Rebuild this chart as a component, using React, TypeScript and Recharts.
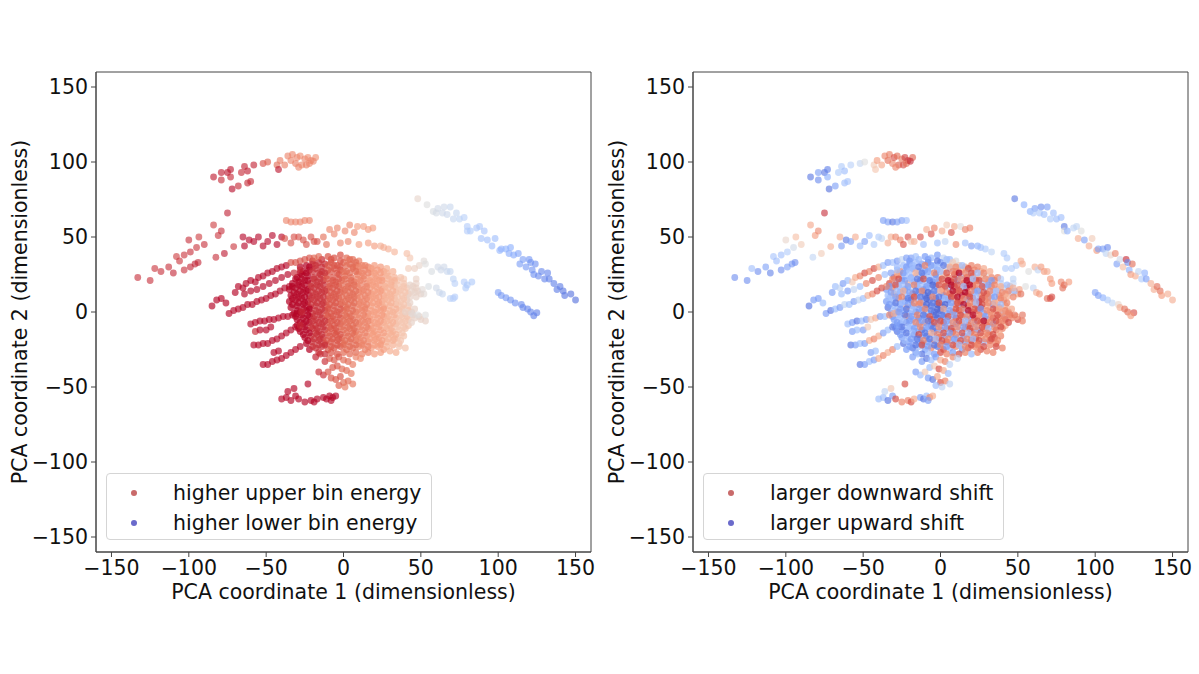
import React from 'react';
import { ScatterChart, Scatter, XAxis, YAxis, ReferenceArea, Label } from 'recharts';

// Each point: [PCA1, PCA2, colour value left panel (0-10), colour value right panel (0-10)]
type P = [number, number, number, number];

const xTicks = [-150, -100, -50, 0, 50, 100, 150];
const yTicks = [-150, -100, -50, 0, 50, 100, 150];
const xTitle = 'PCA coordinate 1 (dimensionless)';
const yTitle = 'PCA coordinate 2 (dimensionless)';
const legendLeft = ['higher upper bin energy', 'higher lower bin energy'];
const legendRight = ['larger downward shift', 'larger upward shift'];

const coreUpperPts: P[] = [
  [-10, 37, 8.9, 2], [-6, 36, 8.9, 3], [-2, 38, 8.9, 2], [2, 36, 8.5, 4], [6, 35, 8.5, 3], [10, 34, 8, 5],
  [-24, 31, 10, 3], [-20, 32, 9.4, 2], [-16, 33, 9.4, 3], [-12, 32, 9.4, 2], [-8, 33, 8.9, 1], [-4, 31, 8.9, 3], [0, 33, 8.5, 2], [4, 32, 8.5, 4], [8, 31, 8.5, 5], [12, 31, 8, 6], [16, 30, 8, 7], [20, 31, 7.4, 8],
  [-26, 27, 10, 8], [-22, 28, 10, 3], [-18, 29, 9.4, 2], [-14, 27, 9.4, 3], [-10, 28, 8.9, 2], [-6, 29, 8.9, 4], [-2, 28, 8.9, 2], [2, 27, 8.5, 6], [6, 29, 8.5, 3], [10, 27, 8, 8], [14, 28, 8, 7], [18, 27, 7.4, 4], [22, 28, 7.4, 8], [26, 27, 7.4, 7],
  [-30, 23, 10, 9], [-27, 25, 10, 8], [-23, 24, 10, 3], [-19, 23, 9.4, 2], [-15, 25, 9.4, 4], [-11, 24, 8.9, 2], [-7, 23, 8.9, 3], [-3, 25, 8.9, 1], [1, 24, 8.5, 6], [5, 23, 8.5, 8], [9, 25, 8, 9], [13, 24, 8, 3], [17, 23, 7.4, 9], [21, 24, 7.4, 8], [25, 23, 7.4, 7], [29, 24, 6.8, 5], [33, 23, 6.8, 8],
  [-33, 19, 10, 9], [-29, 20, 10, 3], [-25, 21, 10, 2], [-21, 19, 9.4, 7], [-17, 20, 9.4, 2], [-13, 21, 9.4, 1], [-9, 19, 8.9, 3], [-5, 20, 8.9, 2], [-1, 21, 8.5, 7], [3, 19, 8.5, 8], [7, 20, 8.5, 9], [11, 21, 8, 2], [15, 19, 8, 9], [19, 20, 7.4, 8], [23, 21, 7.4, 9], [27, 19, 6.8, 3], [31, 20, 6.8, 7], [35, 21, 6.2, 8], [39, 19, 6.2, 4],
  [-35, 15, 10, 2], [-31, 16, 10, 8], [-27, 17, 10, 3], [-23, 15, 10, 2], [-19, 16, 9.4, 4], [-15, 17, 9.4, 2], [-11, 15, 8.9, 1], [-7, 16, 8.9, 3], [-3, 17, 8.9, 2], [1, 15, 8.5, 8], [5, 16, 8.5, 3], [9, 17, 8, 9], [13, 15, 8, 8], [17, 16, 7.4, 10], [21, 17, 7.4, 9], [25, 15, 7.4, 7], [29, 16, 6.8, 3], [33, 17, 6.8, 8], [37, 15, 6.2, 7], [41, 16, 6.2, 4], [45, 17, 5.5, 7],
];

const coreMiddlePts: P[] = [
  [-34, 11, 10, 3], [-30, 12, 10, 7], [-26, 13, 10, 2], [-22, 11, 10, 3], [-18, 12, 9.4, 8], [-14, 13, 9.4, 2], [-10, 11, 8.9, 1], [-6, 12, 8.9, 2], [-2, 13, 8.9, 3], [2, 11, 8.5, 1], [6, 12, 8.5, 9], [10, 13, 8, 8], [14, 11, 8, 10], [18, 12, 7.4, 9], [22, 13, 7.4, 2], [26, 11, 7.4, 8], [30, 12, 6.8, 9], [34, 13, 6.8, 3], [38, 11, 6.2, 8], [42, 12, 6.2, 7], [46, 13, 5.5, 4], [50, 12, 5.5, 7],
  [-35, 7, 10, 2], [-31, 8, 10, 3], [-27, 9, 10, 8], [-23, 7, 10, 2], [-19, 8, 9.4, 1], [-15, 9, 9.4, 3], [-11, 7, 8.9, 2], [-7, 8, 8.9, 1], [-3, 9, 8.9, 0.5], [1, 7, 8.5, 2], [5, 8, 8.5, 1], [9, 9, 8, 8], [13, 7, 8, 9], [17, 8, 7.4, 2], [21, 9, 7.4, 9], [25, 7, 7.4, 10], [29, 8, 6.8, 8], [33, 9, 6.8, 3], [37, 7, 6.2, 7], [41, 8, 6.2, 8],
  [-34, 3, 10, 1], [-30, 4, 10, 3], [-26, 5, 10, 2], [-22, 3, 10, 7], [-18, 4, 9.4, 2], [-14, 5, 9.4, 8], [-10, 3, 8.9, 2], [-6, 4, 8.9, 1], [-2, 5, 8.9, 0.5], [2, 3, 8.5, 1], [6, 4, 8.5, 3], [10, 5, 8, 8], [14, 3, 8, 2], [18, 4, 7.4, 9], [22, 5, 7.4, 8], [26, 3, 7.4, 10], [30, 4, 6.8, 7], [34, 5, 6.8, 2], [38, 3, 6.2, 8], [42, 4, 6.2, 7],
  [-32, -1, 10, 2], [-28, 0, 10, 8], [-24, 1, 10, 3], [-20, -1, 9.4, 2], [-16, 0, 9.4, 1], [-12, 1, 9.4, 2], [-8, -1, 8.9, 3], [-4, 0, 8.9, 1], [0, 1, 8.5, 0.5], [4, -1, 8.5, 2], [8, 0, 8.5, 8], [12, 1, 8, 9], [16, -1, 8, 3], [20, 0, 7.4, 8], [24, 1, 7.4, 9], [28, -1, 6.8, 2], [32, 0, 6.8, 7], [36, 1, 6.2, 8], [40, -1, 6.2, 3], [44, 0, 5.5, 8],
  [-30, -5, 10, 2], [-26, -4, 10, 3], [-22, -3, 10, 8], [-18, -5, 9.4, 2], [-14, -4, 9.4, 1], [-10, -3, 8.9, 2], [-6, -5, 8.9, 9], [-2, -4, 8.9, 1], [2, -3, 8.5, 2], [6, -5, 8.5, 3], [10, -4, 8, 9], [14, -3, 8, 8], [18, -5, 7.4, 2], [22, -4, 7.4, 9], [26, -3, 7.4, 7], [30, -5, 6.8, 8], [34, -4, 6.8, 9], [38, -3, 6.2, 8], [42, -5, 6.2, 9], [46, -4, 5.5, 8], [50, -5, 5.5, 9], [53, -6, 5.5, 8],
];

const coreLowerPts: P[] = [
  [-30, -9, 10, 3], [-26, -8, 10, 2], [-22, -7, 10, 1], [-18, -9, 9.4, 3], [-14, -8, 9.4, 2], [-10, -7, 8.9, 8], [-6, -9, 8.9, 1], [-2, -8, 8.9, 2], [2, -7, 8.5, 9], [6, -9, 8.5, 3], [10, -8, 8, 2], [14, -7, 8, 8], [18, -9, 7.4, 9], [22, -8, 7.4, 3], [26, -7, 7.4, 8], [30, -9, 6.8, 9], [34, -8, 6.8, 2], [38, -7, 6.2, 8], [42, -9, 6.2, 7],
  [-28, -13, 10, 1], [-24, -12, 10, 2], [-20, -11, 9.4, 3], [-16, -13, 9.4, 2], [-12, -12, 9.4, 1], [-8, -11, 8.9, 3], [-4, -13, 8.9, 1], [0, -12, 8.5, 2], [4, -11, 8.5, 8], [8, -13, 8.5, 9], [12, -12, 8, 3], [16, -11, 8, 8], [20, -13, 7.4, 9], [24, -12, 7.4, 2], [28, -11, 6.8, 8], [32, -13, 6.8, 7], [36, -12, 6.2, 9], [40, -11, 6.2, 8],
  [-25, -17, 10, 2], [-21, -16, 9.4, 3], [-17, -15, 9.4, 1], [-13, -17, 9.4, 2], [-9, -16, 8.9, 1], [-5, -15, 8.9, 3], [-1, -17, 8.5, 9], [3, -16, 8.5, 2], [7, -15, 8.5, 8], [11, -17, 8, 3], [15, -16, 8, 2], [19, -15, 7.4, 8], [23, -17, 7.4, 9], [27, -16, 6.8, 7], [31, -15, 6.8, 8], [35, -17, 6.2, 9], [39, -16, 6.2, 8],
  [-24, -21, 10, 1], [-20, -20, 9.4, 2], [-16, -19, 9.4, 3], [-12, -21, 9.4, 1], [-8, -20, 8.9, 2], [-4, -19, 8.9, 8], [0, -21, 8.5, 2], [4, -20, 8.5, 9], [8, -19, 8.5, 3], [12, -21, 8, 8], [16, -20, 8, 2], [20, -19, 7.4, 9], [24, -21, 7.4, 8], [28, -20, 6.8, 3], [32, -19, 6.8, 9], [36, -21, 6.2, 8], [40, -24, 6.2, 8],
  [-22, -25, 10, 2], [-18, -24, 9.4, 1], [-14, -23, 9.4, 3], [-10, -25, 8.9, 2], [-6, -24, 8.9, 8], [-2, -23, 8.9, 1], [2, -25, 8.5, 9], [6, -24, 8.5, 3], [10, -23, 8, 8], [14, -25, 8, 2], [18, -24, 7.4, 9], [22, -23, 7.4, 8], [26, -25, 7.4, 9], [30, -26, 6.8, 8], [34, -27, 6.8, 8],
];

const coreFillUpperPts: P[] = [
  [-20, 34, 9.4, 2], [-14, 35, 9.4, 3], [-8, 35, 8.9, 2], [-2, 34, 8.9, 1], [4, 35, 8.5, 3], [8, 33, 8.5, 6],
  [-28, 30, 10, 3], [-22, 30, 10, 2], [-18, 31, 9.4, 3], [-14, 30, 9.4, 1], [-10, 31, 8.9, 8], [-6, 31, 8.9, 2], [-2, 30, 8.9, 3], [2, 31, 8.5, 1], [6, 30, 8.5, 7], [10, 30, 8, 8], [14, 31, 8, 3], [18, 29, 7.4, 9], [24, 30, 7.4, 8], [28, 29, 6.8, 7],
  [-28, 26, 10, 7], [-24, 26, 10, 2], [-20, 27, 9.4, 3], [-16, 26, 9.4, 7], [-12, 26, 9.4, 1], [-8, 27, 8.9, 2], [-4, 26, 8.9, 8], [0, 27, 8.5, 3], [4, 26, 8.5, 9], [8, 27, 8.5, 8], [12, 26, 8, 10], [16, 26, 8, 8], [20, 26, 7.4, 9], [24, 26, 7.4, 3], [28, 26, 6.8, 8], [32, 27, 6.8, 7],
  [-31, 22, 10, 8], [-27, 22, 10, 9], [-23, 21, 10, 2], [-19, 22, 9.4, 3], [-15, 22, 9.4, 1], [-11, 22, 8.9, 9], [-7, 21, 8.9, 1], [-3, 22, 8.9, 2], [1, 22, 8.5, 9], [5, 21, 8.5, 10], [9, 22, 8, 9], [13, 22, 8, 8], [17, 21, 7.4, 10], [21, 22, 7.4, 3], [25, 21, 7.4, 9], [29, 22, 6.8, 8], [33, 21, 6.8, 2], [37, 23, 6.2, 8],
  [-33, 17, 10, 2], [-29, 18, 10, 9], [-25, 18, 10, 3], [-21, 17, 9.4, 2], [-17, 18, 9.4, 8], [-13, 18, 9.4, 3], [-9, 17, 8.9, 2], [-5, 18, 8.9, 0.5], [-1, 18, 8.5, 9], [3, 17, 8.5, 9], [7, 18, 8.5, 10], [11, 18, 8, 9], [15, 17, 8, 3], [19, 18, 7.4, 10], [23, 18, 7.4, 8], [27, 17, 6.8, 9], [31, 18, 6.8, 2], [35, 18, 6.2, 8], [39, 17, 6.2, 7], [43, 18, 5.5, 3],
  [-32, 13, 10, 2], [-28, 14, 10, 3], [-24, 14, 10, 7], [-20, 13, 9.4, 2], [-16, 14, 9.4, 1], [-12, 14, 9.4, 8], [-8, 13, 8.9, 0.5], [-4, 14, 8.9, 1], [0, 14, 8.5, 7], [4, 13, 8.5, 8], [8, 14, 8.5, 10], [12, 14, 8, 9], [16, 13, 8, 10], [20, 14, 7.4, 8], [24, 14, 7.4, 2], [28, 13, 6.8, 9], [32, 14, 6.8, 8], [36, 14, 6.2, 3], [40, 13, 6.2, 8], [44, 14, 5.5, 8], [48, 14, 5.5, 3],
  [-33, 9, 10, 3], [-29, 10, 10, 2], [-25, 10, 10, 8], [-21, 9, 9.4, 1], [-17, 10, 9.4, 9], [-13, 10, 9.4, 1], [-9, 9, 8.9, 0.5], [-5, 10, 8.9, 8], [-1, 10, 8.5, 1], [3, 9, 8.5, 3], [7, 10, 8.5, 9], [11, 10, 8, 10], [15, 9, 8, 8], [19, 10, 7.4, 9], [23, 10, 7.4, 3], [27, 9, 6.8, 9], [31, 10, 6.8, 8], [35, 10, 6.2, 2], [39, 9, 6.2, 8], [43, 10, 5.5, 7], [47, 10, 5.5, 8],
];

const coreFillLowerPts: P[] = [
  [-33, 5, 10, 2], [-29, 6, 10, 1], [-25, 6, 10, 3], [-21, 5, 9.4, 2], [-17, 6, 9.4, 8], [-13, 6, 9.4, 8], [-9, 5, 8.9, 0.5], [-5, 6, 8.9, 1], [-1, 6, 8.5, 9], [3, 5, 8.5, 0.5], [7, 6, 8.5, 2], [11, 6, 8, 9], [15, 5, 8, 10], [19, 6, 7.4, 8], [23, 6, 7.4, 3], [27, 5, 6.8, 9], [31, 6, 6.8, 8], [35, 6, 6.2, 7], [39, 5, 6.2, 3], [43, 6, 5.5, 8],
  [-30, 1, 10, 3], [-26, 2, 10, 2], [-22, 2, 10, 1], [-18, 1, 9.4, 3], [-14, 2, 9.4, 2], [-10, 2, 8.9, 8], [-6, 1, 8.9, 1], [-2, 2, 8.9, 0.5], [2, 2, 8.5, 7], [6, 1, 8.5, 2], [10, 2, 8, 9], [14, 2, 8, 8], [18, 1, 7.4, 10], [22, 2, 7.4, 9], [26, 2, 7.4, 2], [30, 1, 6.8, 8], [34, 2, 6.8, 9], [38, 2, 6.2, 7], [42, 1, 6.2, 8], [46, 2, 5.5, 7],
  [-31, -3, 10, 2], [-27, -2, 10, 3], [-23, -2, 10, 1], [-19, -3, 9.4, 2], [-15, -2, 9.4, 8], [-11, -2, 8.9, 1], [-7, -3, 8.9, 9], [-3, -2, 8.9, 0.5], [1, -2, 8.5, 1], [5, -3, 8.5, 9], [9, -2, 8, 2], [13, -2, 8, 9], [17, -3, 7.4, 8], [21, -2, 7.4, 10], [25, -2, 7.4, 8], [29, -3, 6.8, 2], [33, -2, 6.8, 8], [37, -2, 6.2, 9], [41, -3, 6.2, 8], [45, -2, 5.5, 8], [49, -3, 5.5, 7],
  [-28, -7, 10, 2], [-24, -6, 10, 3], [-20, -6, 9.4, 2], [-16, -7, 9.4, 8], [-12, -6, 9.4, 2], [-8, -6, 8.9, 1], [-4, -7, 8.9, 9], [0, -6, 8.5, 9], [4, -6, 8.5, 2], [8, -7, 8.5, 8], [12, -6, 8, 9], [16, -6, 8, 3], [20, -7, 7.4, 8], [24, -6, 7.4, 9], [28, -6, 6.8, 10], [32, -7, 6.8, 8], [36, -6, 6.2, 9], [40, -6, 6.2, 8], [44, -7, 5.5, 9],
  [-29, -11, 10, 2], [-25, -10, 10, 1], [-21, -10, 9.4, 3], [-17, -11, 9.4, 2], [-13, -10, 9.4, 8], [-9, -10, 8.9, 2], [-5, -11, 8.9, 1], [-1, -10, 8.5, 8], [3, -10, 8.5, 2], [7, -11, 8.5, 9], [11, -10, 8, 8], [15, -10, 8, 2], [19, -11, 7.4, 9], [23, -10, 7.4, 8], [27, -10, 6.8, 9], [31, -11, 6.8, 3], [35, -10, 6.2, 8], [39, -10, 6.2, 9],
  [-26, -15, 10, 2], [-22, -14, 10, 1], [-18, -14, 9.4, 3], [-14, -15, 9.4, 9], [-10, -14, 8.9, 1], [-6, -14, 8.9, 7], [-2, -15, 8.9, 8], [2, -14, 8.5, 9], [6, -14, 8.5, 2], [10, -15, 8, 8], [14, -14, 8, 9], [18, -14, 7.4, 3], [22, -15, 7.4, 8], [26, -14, 7.4, 9], [30, -14, 6.8, 8], [34, -15, 6.8, 9], [38, -14, 6.2, 7],
  [-23, -19, 10, 3], [-19, -18, 9.4, 2], [-15, -18, 9.4, 1], [-11, -19, 8.9, 8], [-7, -18, 8.9, 1], [-3, -18, 8.9, 3], [1, -19, 8.5, 9], [5, -18, 8.5, 8], [9, -18, 8, 2], [13, -19, 8, 9], [17, -18, 7.4, 8], [21, -18, 7.4, 3], [25, -19, 7.4, 9], [29, -18, 6.8, 8], [33, -18, 6.8, 9], [37, -19, 6.2, 8],
  [-20, -23, 9.4, 2], [-16, -22, 9.4, 1], [-12, -22, 9.4, 9], [-8, -23, 8.9, 2], [-4, -22, 8.9, 1], [0, -22, 8.5, 8], [4, -23, 8.5, 2], [8, -22, 8.5, 9], [12, -22, 8, 3], [16, -23, 8, 8], [20, -22, 7.4, 9], [24, -22, 7.4, 8], [28, -23, 6.8, 9], [32, -22, 6.8, 8], [36, -23, 6.2, 9],
  [-16, -27, 9.4, 2], [-12, -28, 9.4, 1], [-8, -27, 8.9, 3], [-4, -28, 8.9, 2], [0, -27, 8.5, 9], [4, -28, 8.5, 8], [8, -27, 8.5, 2], [12, -28, 8, 9], [16, -27, 8, 8], [20, -28, 7.4, 3], [24, -27, 7.4, 8],
];

const stemPts: P[] = [
  [-16, -40, 9.4, 2], [-13, -42, 9.4, 3], [-10, -40, 8.9, 6], [-8, -44, 8.9, 2], [-5, -45, 8.9, 1], [-2, -43, 8.9, 7], [0, -47, 8.5, 9], [3, -46, 8.5, 8], [6, -48, 8.2, 4], [-3, -49, 8.7, 3], [1, -50, 8.2, 4],
  [-7, -37, 8.9, 3], [-4, -36, 8.9, 6], [-1, -38, 8.5, 9], [2, -39, 8.5, 7], [5, -41, 8.2, 3], [-12, -33, 9.4, 2], [-9, -31, 8.9, 1], [-6, -32, 8.9, 3], [-3, -30, 8.9, 2], [0, -32, 8.5, 7], [3, -33, 8.5, 8], [6, -35, 8.2, 4],
  [-18, -30, 9.6, 2], [-15, -28, 9.4, 3], [8, -30, 8, 8], [11, -31, 7.8, 4],
];

const bottomPts: P[] = [
  [-40, -58, 10, 3], [-37, -57, 10, 3], [-36, -53, 10, 4], [-34, -59, 10, 1], [-32, -51, 10, 6], [-31, -56, 10, 2], [-29, -58, 10, 9], [-23, -48, 10, 9],
  [-21, -59, 10, 8], [-19, -60, 10, 9], [-17, -58, 10, 7], [-13, -57, 10, 2], [-11, -58, 10, 1], [-9, -56, 10, 3], [-7, -57, 10, 8], [-5, -56, 10, 7], [-8, -59, 10, 2], [-25, -60, 10, 8],
];

const leftStreakPts: P[] = [
  [-70, 13, 10, 2], [-68, 17, 10, 3], [-65, 16, 10, 4], [-63, 19, 10, 2], [-60, 21, 10, 3], [-57, 20, 10, 6], [-55, 23, 10, 7], [-52, 24, 10, 8], [-49, 26, 10, 9], [-46, 27, 10, 8], [-43, 29, 10, 9], [-40, 30, 10, 7], [-37, 31, 10, 3], [-34, 33, 9, 2], [-31, 33, 9, 3], [-28, 34, 9, 2], [-25, 35, 9, 4], [-22, 36, 9, 2], [-19, 36, 8.7, 2], [-16, 37, 8.7, 3],
  [-64, 12, 10, 3], [-60, 14, 10, 2], [-56, 15, 10, 4], [-52, 17, 10, 3], [-48, 19, 10, 8], [-44, 21, 10, 9], [-40, 23, 10, 8], [-36, 25, 10, 3], [-32, 26, 9.5, 2], [-28, 28, 9.5, 3],
  [-74, -1, 10, 2], [-71, 1, 10, 1], [-68, 2, 10, 3], [-65, 3, 10, 2], [-62, 5, 10, 4], [-59, 5, 10, 3], [-56, 7, 10, 2], [-53, 8, 10, 4], [-50, 9, 10, 3], [-47, 11, 10, 7], [-44, 12, 10, 8], [-41, 14, 10, 9], [-38, 16, 10, 9], [-35, 17, 10, 8],
  [-60, -8, 10, 3], [-57, -7, 10, 2], [-54, -6, 10, 1], [-51, -6, 10, 3], [-48, -5, 10, 2], [-45, -5, 10, 6], [-42, -4, 10, 7], [-39, -3, 10, 2], [-36, -3, 10, 3], [-33, -2, 10, 8], [-30, -1, 10, 7], [-27, 0, 9.5, 2],
  [-57, -13, 9.5, 2], [-54, -12, 10, 3], [-50, -12, 10, 2], [-47, -10, 10, 6],
  [-58, -22, 10, 1], [-55, -22, 10, 2], [-52, -21, 10, 3], [-49, -21, 10, 2], [-46, -19, 10, 7], [-43, -18, 10, 8], [-40, -16, 10, 7], [-37, -14, 10, 2], [-34, -12, 10, 3], [-31, -10, 10, 1], [-28, -9, 9.5, 2],
  [-45, -27, 10, 2], [-42, -26, 10, 3],
  [-52, -35, 10, 1], [-49, -35, 10, 2], [-46, -33, 10, 3], [-43, -32, 10, 2], [-40, -31, 10, 7], [-37, -29, 10, 8], [-34, -27, 10, 7], [-31, -25, 10, 8], [-28, -23, 10, 3],
  [-85, 4, 10, 1], [-82, 8, 10, 2], [-79, 9, 10, 2], [-76, 6, 10, 3],
];

const band60Pts: P[] = [
  [-37, 61, 8, 2], [-34, 60, 8, 2], [-31, 60, 8, 1], [-28, 60, 8, 2], [-25, 61, 8, 2], [-22, 61, 8, 3],
];

const bandPts: P[] = [
  [-65, 50, 10, 7], [-64, 44, 10, 2], [-61, 48, 10, 1], [-58, 47, 10, 2], [-55, 50, 10, 7], [-52, 44, 10, 3], [-49, 47, 10, 2], [-46, 51, 10, 3], [-43, 45, 10, 3.5], [-40, 50, 10, 3.5],
  [-38, 49, 9, 4], [-34, 46, 9, 7], [-32, 50, 9, 7], [-29, 50, 9, 8], [-26, 48, 9, 8], [-24, 45, 9, 9], [-21, 50, 9, 9], [-19, 47, 9, 6], [-17, 47, 9, 7], [-13, 50, 8.5, 9],
  [-9, 55, 8, 7], [-4, 56, 8, 8], [-6, 52, 8, 9], [1, 54, 8, 7], [4, 58, 8, 6], [7, 53, 8, 9], [9, 57, 7.5, 7], [13, 57, 7.5, 5], [16, 55, 7.5, 8], [19, 56, 7.5, 8],
  [16, 46, 7.5, 3], [20, 44, 7.5, 2], [24, 44, 7, 2.5], [26, 43, 7, 3], [29, 42, 7, 3.5], [33, 40, 6.8, 4], [-2, 46, 8, 3], [3, 47, 8, 4], [10, 45, 7.5, 8], [-11, 45, 8.5, 3],
];

const topArcPts: P[] = [
  [-84, 90, 9.7, 1], [-79, 93, 9.7, 2], [-79, 88, 9.5, 1.5], [-75, 93, 9.8, 1], [-73, 95, 9.8, 1.2], [-73, 90, 9.5, 2.5], [-72, 82, 9.9, 0.8], [-68, 84, 9.5, 2],
  [-66, 93, 9.5, 3.5], [-64, 97, 9.6, 3.5], [-62, 94, 9.7, 3], [-62, 86, 9.5, 3], [-60, 87, 9.5, 3.2], [-58, 98, 9.6, 3.8], [-52, 99, 9, 4.2], [-49, 100, 8.8, 5],
  [-43, 98, 8.5, 6], [-42, 95, 9.8, 6.2], [-41, 101, 8.2, 7.5], [-36, 104, 8, 8], [-34, 101, 8, 8.5], [-33, 105, 8, 8.2], [-31, 99, 8.2, 8], [-30, 103, 8, 9],
  [-28, 104, 7.8, 8.5], [-27, 98, 8, 8.8], [-25, 102, 8, 8.2], [-24, 98, 8.2, 9], [-23, 103, 7.8, 9.2], [-21, 101, 8, 9.3], [-22, 99, 8, 8.5], [-18, 103, 7.8, 8.7],
  [-19.5, 100.5, 8, 9.5], [-29, 96.5, 8, 8], [-38, 98, 8.2, 7.2],
];

const leftWingPts: P[] = [
  [-133, 23, 9.5, 1.5], [-125, 21, 9.5, 1.5], [-122, 29, 9.4, 3], [-118, 27, 9.5, 1.5], [-113, 30, 9.5, 2], [-110, 26, 9.6, 1.2], [-108, 37, 9.3, 3.2], [-106, 34, 9.4, 3],
  [-103, 38, 9.4, 3], [-103, 28, 9.5, 1.5], [-100, 48, 9.5, 5.5], [-99, 40, 9.5, 3.5], [-99, 30, 9.6, 2], [-96, 32, 9.7, 1.8], [-95, 43, 9.4, 4.5], [-94, 33, 9.6, 1.5],
  [-93.5, 50, 9.3, 6.5], [-90, 45, 9.5, 6], [-84, 58, 9.3, 7.2], [-82.5, 36.5, 9.5, 4], [-81, 51, 9.4, 7.5], [-79, 54, 9.5, 8], [-77, 39, 9.8, 6], [-75, 66, 9.7, 9.5], [-71, 43.6, 9.4, 7],
];

const tailPts: P[] = [
  [41, 39, 6.5, 3.5], [43, 36, 6.2, 3.5], [42, 29, 6, 3.5], [46, 29, 5.8, 3.5], [49, 31, 5.5, 3.5], [52, 34, 5.2, 7], [53, 32, 5, 7], [57, 27, 4.8, 5], [61, 30, 4.6, 7],
  [63, 28, 4.5, 4], [65, 30, 4.5, 7.5], [67, 27, 4.3, 7.5], [69, 27, 4.2, 7], [71, 22, 4, 7.5], [72, 19, 3.8, 7.5], [78, 20, 3.6, 8], [80, 18, 3.5, 8.5], [83, 20, 3.5, 7.5],
  [79, 16, 3.5, 8.5], [39, 22, 6.2, 3.5], [47, 22, 5.6, 4], [47, 19, 5.6, 4], [47, 16, 5.6, 7], [51, 15, 5.2, 7.5], [52, 12, 5.2, 8.5], [55, 17, 4.8, 5], [60, 16, 4.6, 4],
  [62, 13, 4.4, 7], [64, 12, 4.2, 7.5], [69, 9, 3.8, 8.5], [71, 9, 3.7, 9], [72, 10, 3.6, 9], [40, 0, 5.5, 7.5], [44, -1, 5.2, 8], [48, -2, 5, 8.5], [53, -2, 5, 8.5],
];

const farArcPts: P[] = [
  [48, 75.5, 5.5, 1], [54, 71.5, 5, 2.5], [58, 67, 4.8, 2.5], [61, 69, 4.6, 2], [65, 70, 4.5, 1.5], [69, 70, 4.3, 2], [60, 66, 4.7, 3.5], [64, 66, 4.5, 3.5], [67, 65, 4.4, 3],
  [73, 66, 4.2, 3], [71, 62, 4.2, 3.5], [75, 62, 4, 3], [78, 63, 3.8, 3], [80, 57, 3.6, 1], [80, 54, 3.6, 5], [82, 54, 3.5, 2.5], [86, 56, 3.4, 4], [88, 57, 3.4, 4],
  [91, 54, 3.3, 5], [89, 49, 3.2, 7], [93, 48, 3.1, 2], [96, 44, 3, 7], [98, 49, 3, 6], [101, 41, 2.8, 7.5], [102, 42, 2.7, 2], [105, 42, 2.6, 2], [108, 43, 2.5, 1.5],
  [107, 39, 2.4, 4], [110, 38, 2.3, 5.5], [113, 39, 2.2, 8], [114, 32, 2, 2], [116, 35, 2, 4.5], [118, 30, 1.9, 6.5], [120, 35, 1.8, 9.5], [121, 33, 1.7, 1.5],
  [122, 28, 1.7, 2.5], [124, 32, 1.6, 8.5], [123, 25, 1.6, 7.5], [126, 24, 1.5, 7], [128, 27, 1.4, 4], [130, 22, 1.3, 3.5], [132, 26, 1.3, 2.5], [133, 22, 1.2, 2],
  [136, 19, 1.2, 7], [138, 15, 1.1, 7], [140, 17, 1.1, 8.5], [142, 14, 1, 8.5], [143, 11, 1, 7.5], [147, 12, 0.9, 7], [150, 8, 0.8, 7],
];

const shortStreakPts: P[] = [
  [100, 13, 2, 2], [102, 11, 1.9, 2], [105, 9.5, 1.8, 2.5], [108, 8, 1.7, 3.5], [111, 6, 1.6, 4], [115, 5, 1.5, 5.5],
  [116, 3, 1.4, 7], [119, 2, 1.3, 8.5], [121, 0, 1.3, 8.5], [125, -0.5, 1.2, 9], [123, -2.5, 1.2, 7.5],
];

// draw order and per-group marker opacity (dense core groups stand in for heavier overplotting)
const groups: { pts: P[]; op: number }[] = [
  { pts: coreUpperPts, op: 0.72 }, { pts: coreMiddlePts, op: 0.72 }, { pts: coreLowerPts, op: 0.72 },
  { pts: coreFillUpperPts, op: 0.72 }, { pts: coreFillLowerPts, op: 0.72 }, { pts: stemPts, op: 0.68 },
  { pts: tailPts, op: 0.62 }, { pts: leftStreakPts, op: 0.66 }, { pts: bottomPts, op: 0.66 },
  { pts: bandPts, op: 0.62 }, { pts: band60Pts, op: 0.62 }, { pts: topArcPts, op: 0.62 },
  { pts: leftWingPts, op: 0.6 }, { pts: farArcPts, op: 0.62 }, { pts: shortStreakPts, op: 0.62 },
];

// matplotlib "coolwarm" colormap anchors (styling)
const CW: [number, number, number][] = [
  [59, 76, 192], [98, 130, 234], [141, 176, 254], [184, 208, 249], [221, 221, 221],
  [245, 196, 172], [244, 154, 123], [222, 96, 77], [180, 4, 38],
];
function coolwarm(v: number): string {
  const t = Math.max(0, Math.min(1, v)) * 8;
  const i = Math.min(7, Math.floor(t));
  const f = t - i;
  const a = CW[i], b = CW[i + 1];
  const c = a.map((ai, k) => Math.round(ai + (b[k] - ai) * f));
  return `rgb(${c[0]},${c[1]},${c[2]})`;
}

const FONT = 'DejaVu Sans, sans-serif';
const FS = 20.5;
const fmt = (v: number) => (v < 0 ? '\u2212' + Math.abs(v) : String(v));

const makeDot = (op: number) => (props: any) => {
  const { cx, cy, payload } = props;
  if (cx == null || cy == null) return null;
  return <circle cx={cx} cy={cy} r={3.4} fill={coolwarm(payload.c)} fillOpacity={op} />;
};

function Panel({ left, ci, legend, legendWidth }: { left: number; ci: number; legend: string[]; legendWidth: number }) {
  return (
    <div style={{ position: 'absolute', left, top: 0, width: 600, height: 674 }}>
      <ScatterChart width={600} height={674} margin={{ top: 72, right: 9, bottom: 72, left: 0 }}>
        <XAxis
          type="number" dataKey="x" domain={[-160, 160]} ticks={xTicks} allowDataOverflow
          height={50} tickFormatter={fmt} tickSize={5} tickMargin={3}
          axisLine={{ stroke: '#444' }} tickLine={{ stroke: '#444' }}
          tick={{ fontSize: FS, fill: '#111', fontFamily: FONT }}
        >
          <Label
            content={(p: any) => {
              const vb = p.viewBox || {};
              return (
                <text x={vb.x + vb.width / 2} y={vb.y + 40} textAnchor="middle" dominantBaseline="central"
                  fontSize={FS} fontFamily={FONT} fill="#111">{xTitle}</text>
              );
            }}
          />
        </XAxis>
        <YAxis
          type="number" dataKey="y" domain={[-160, 160]} ticks={yTicks} allowDataOverflow
          width={96} tickFormatter={fmt} tickSize={5} tickMargin={3}
          axisLine={{ stroke: '#444' }} tickLine={{ stroke: '#444' }}
          tick={{ fontSize: FS, fill: '#111', fontFamily: FONT }}
        >
          <Label
            content={(p: any) => {
              const vb = p.viewBox || {};
              const cx = 20;
              const cy = vb.y + vb.height / 2;
              return (
                <text x={cx} y={cy} textAnchor="middle" dominantBaseline="central" transform={`rotate(-90, ${cx}, ${cy})`}
                  fontSize={FS} fontFamily={FONT} fill="#111">{yTitle}</text>
              );
            }}
          />
        </YAxis>
        <ReferenceArea x1={-160} x2={160} y1={-160} y2={160} fill="none" stroke="#444" strokeWidth={1} ifOverflow="visible" />
        {groups.map((g, gi) => (
          <Scatter
            key={gi}
            data={g.pts.map((p) => ({ x: p[0], y: p[1], c: p[ci] / 10 }))}
            shape={makeDot(g.op)}
            isAnimationActive={false}
          />
        ))}
      </ScatterChart>
      <div
        style={{
          position: 'absolute', left: 106, top: 473, width: legendWidth, height: 67, boxSizing: 'border-box',
          border: '1px solid #d5d5d5', borderRadius: 4, background: 'rgba(255,255,255,0.8)', fontFamily: FONT, fontSize: FS, color: '#111',
        }}
      >
        {legend.map((txt, i) => (
          <div key={txt} style={{ position: 'absolute', left: 0, top: i === 0 ? 5 : 35, height: 28 }}>
            <span style={{ position: 'absolute', left: 24, top: 11, width: 6, height: 6, borderRadius: 3, background: i === 0 ? '#c96a6a' : '#6a6acb' }} />
            <span style={{ position: 'absolute', left: 66, whiteSpace: 'nowrap', lineHeight: '28px', top: 0 }}>{txt}</span>
          </div>
        ))}
      </div>
    </div>
  );
}

export default function App() {
  return (
    <div style={{ position: 'absolute', left: 0, top: 0, width: 1199, height: 674, background: '#fff', overflow: 'hidden' }}>
      <Panel left={0} ci={2} legend={legendLeft} legendWidth={326} />
      <Panel left={597} ci={3} legend={legendRight} legendWidth={301} />
    </div>
  );
}
